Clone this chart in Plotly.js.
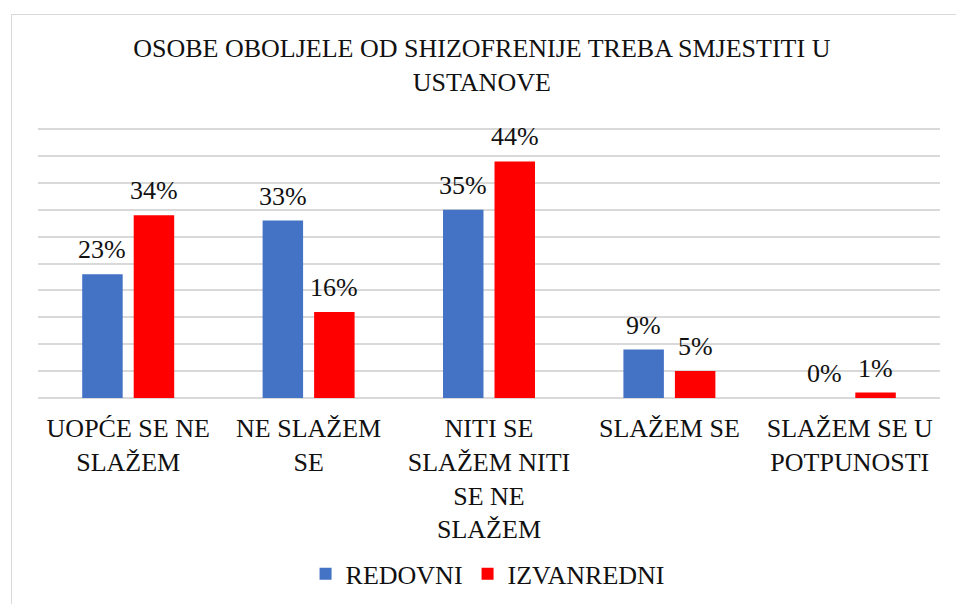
<!DOCTYPE html>
<html>
<head>
<meta charset="utf-8">
<script src="https://cdn.plot.ly/plotly-3.0.1.min.js"></script>
<style>
  body { margin: 0; font-family: "Liberation Serif", serif; }
  #frame { position: absolute; left: 11px; top: 14px; width: 945px; height: 590px; border-left: 1px solid #d9d9d9; border-top: 1px solid #d9d9d9; pointer-events: none; }
  #preload { position: absolute; left: -2000px; top: -2000px; font-family: "Liberation Serif"; font-size: 26px; }
</style>
</head>
<body>
<div id="preload">.</div>
<div id="chart" style="width:956px;height:604px"></div>
<div id="frame"></div>
<script>
const categories = [
  "UOPĆE SE NE<br>SLAŽEM",
  "NE SLAŽEM<br>SE",
  "NITI SE<br>SLAŽEM NITI<br>SE NE<br>SLAŽEM",
  "SLAŽEM SE",
  "SLAŽEM SE U<br>POTPUNOSTI"
];
const redovni = [23, 33, 35, 9, 0];
const izvanredni = [34, 16, 44, 5, 1];
const seriesNames = ["REDOVNI", "IZVANREDNI"];
const colors = ["#4472C4", "#FF0000"];

const FONT = "Liberation Serif";

const traces = [redovni, izvanredni].map((vals, i) => ({
  type: "bar",
  name: seriesNames[i],
  x: categories,
  y: vals,
  marker: { color: colors[i] },
  hoverinfo: "skip"
}));

const annotations = [];
[redovni, izvanredni].forEach((vals, i) => {
  vals.forEach((v, j) => {
    annotations.push({
      x: categories[j], y: v, xref: "x", yref: "y",
      text: v + "%", showarrow: false,
      xanchor: "center", yanchor: "bottom",
      xshift: i === 0 ? -25.75 : 25.75, yshift: 8,
      font: { family: FONT, size: 26, color: "#111111" }
    });
  });
});

const layout = {
  width: 956, height: 604,
  margin: { l: 38, r: 16, t: 126, b: 206 },
  barmode: "group",
  bargap: 0.429,
  bargroupgap: 0.214,
  font: { family: FONT, size: 26, color: "#111111" },
  title: {
    text: "OSOBE OBOLJELE OD SHIZOFRENIJE TREBA SMJESTITI U<br>USTANOVE",
    font: { family: FONT, size: 26 },
    xref: "container", x: 0.504, xanchor: "center",
    yref: "container", y: 0.905, yanchor: "top"
  },
  xaxis: {
    type: "category",
    showgrid: false, showline: false, ticks: "",
    ticklabelstandoff: 12,
    tickfont: { family: FONT, size: 26 },
    fixedrange: true
  },
  yaxis: {
    range: [0, 50.6], dtick: 5, tick0: 0,
    showgrid: true, gridcolor: "#d9d9d9", gridwidth: 1.5,
    zeroline: true, zerolinecolor: "#d9d9d9", zerolinewidth: 1.5,
    showticklabels: false, ticks: "", showline: false,
    fixedrange: true
  },
  showlegend: true,
  legend: {
    orientation: "h",
    x: 0.51, xanchor: "center", xref: "container",
    y: 0.05, yanchor: "middle", yref: "container",
    font: { family: FONT, size: 26 },
    itemwidth: 30, tracegroupgap: 0
  },
  annotations: annotations
};

Plotly.newPlot("chart", traces, layout, { displayModeBar: false });
</script>
</body>
</html>
